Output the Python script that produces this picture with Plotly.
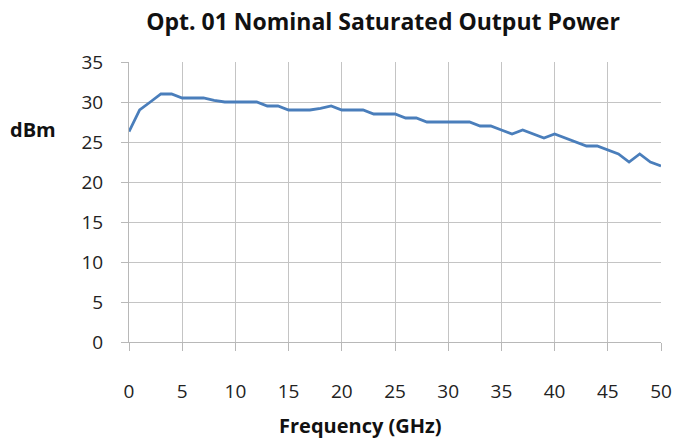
import plotly.graph_objects as go

freq_ghz = list(range(0, 51))
power_dbm = [26.3, 29, 30, 31, 31, 30.5, 30.5, 30.5, 30.2, 30, 30,
             30, 30, 29.5, 29.5, 29, 29, 29, 29.2, 29.5, 29,
             29, 29, 28.5, 28.5, 28.5, 28, 28, 27.5, 27.5, 27.5,
             27.5, 27.5, 27, 27, 26.5, 26, 26.5, 26, 25.5, 26,
             25.5, 25, 24.5, 24.5, 24, 23.5, 22.5, 23.5, 22.5, 22]
x_ticks = [0, 5, 10, 15, 20, 25, 30, 35, 40, 45, 50]
y_ticks = [0, 5, 10, 15, 20, 25, 30, 35]

font = "Open Sans, Liberation Sans, sans-serif"
W, H = 675, 441
L, R, T, B = 129, 14, 62, 99
pw, ph = W - L - R, H - T - B

fig = go.Figure()
fig.add_trace(go.Scatter(x=freq_ghz, y=power_dbm, mode="lines",
                         line=dict(color="#4a7ebb", width=2.8),
                         showlegend=False, hoverinfo="skip"))

fig.update_layout(
    width=W, height=H,
    margin=dict(l=L, r=R, t=T, b=B, autoexpand=False),
    paper_bgcolor="white", plot_bgcolor="white",
    font=dict(family=font, size=19, color="#222"),
    title=dict(text="<b>Opt. 01 Nominal Saturated Output Power</b>",
               x=383 / W, xanchor="center",
               y=1 - 22 / H, yanchor="middle",
               font=dict(size=23, family=font, color="#111")),
    xaxis=dict(range=[0, 50], tickvals=x_ticks, showgrid=True,
               gridcolor="#c4c4c4", gridwidth=1, zeroline=False,
               showline=True, linecolor="#b8b8b8", ticks="outside",
               ticklen=8, tickcolor="#b8b8b8", tickfont=dict(size=19),
               ticklabelstandoff=24, fixedrange=True),
    yaxis=dict(range=[0, 35], tickvals=y_ticks, showgrid=True,
               gridcolor="#c4c4c4", gridwidth=1, zeroline=False,
               showline=True, linecolor="#b8b8b8", ticks="outside",
               ticklen=7, tickcolor="#b8b8b8", tickfont=dict(size=19),
               ticklabelstandoff=14, fixedrange=True),
    annotations=[
        dict(text="<b>dBm</b>", xref="paper", yref="paper",
             x=(33 - L) / pw, y=(H - B - 129) / ph,
             xanchor="center", yanchor="middle",
             showarrow=False, font=dict(size=20, family=font, color="#111")),
        dict(text="<b>Frequency (GHz)</b>", xref="paper", yref="paper",
             x=(360 - L) / pw, y=-(425 - (H - B)) / ph,
             xanchor="center", yanchor="middle",
             showarrow=False, font=dict(size=20, family=font, color="#111")),
    ],
)
fig.write_html("out.html", config={"displayModeBar": False, "staticPlot": True},
               post_script="document.body.style.margin='0';document.body.style.overflow='hidden';")
